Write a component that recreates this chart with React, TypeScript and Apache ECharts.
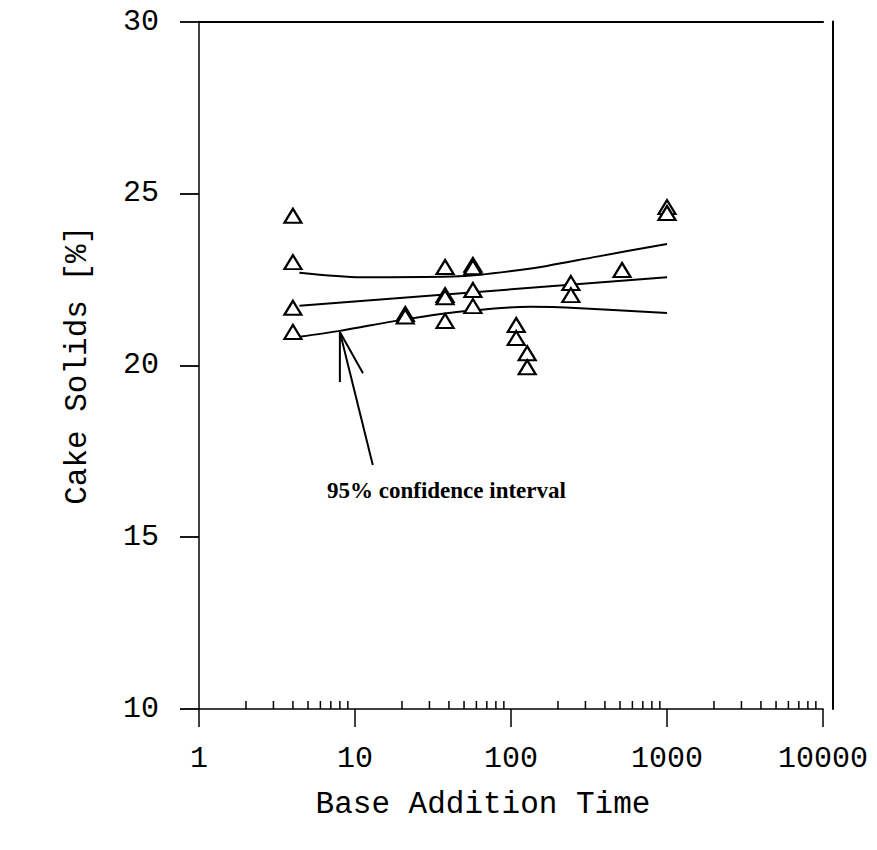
import React, { useEffect, useRef } from "react";
import * as echarts from "echarts";

// Observed data: [Base Addition Time, Cake Solids %]
const observed: [number, number][] = [
  [4, 24.35], [4, 23.0], [4, 21.67], [4, 20.97],
  [21, 21.49], [21, 21.42],
  [37.8, 22.86], [37.8, 22.04], [37.8, 21.98], [37.8, 21.29],
  [57, 22.92], [57, 22.85], [57, 22.19], [57, 21.72],
  [108, 21.17], [108, 20.79], [127, 20.35], [127, 19.94],
  [242, 22.39], [242, 22.04],
  [515, 22.77],
  [1000, 24.6], [1000, 24.43],
];

const fitLine: [number, number][] = [[4.4, 21.73], [1000, 22.56]];
const upperBand: [number, number][] = [
  [4.4, 22.69], [11, 22.56], [42, 22.58], [63, 22.63], [114, 22.77],
  [170, 22.89], [356, 23.16], [1000, 23.53],
];
const lowerBand: [number, number][] = [
  [4.4, 20.83], [8, 21.0], [20, 21.32], [55, 21.59], [133, 21.7],
  [277, 21.66], [1000, 21.52],
];

// Arrow annotation (data coordinates)
const arrowLong: [number, number][] = [[13.0, 17.1], [8.0, 20.97]];
const arrowLeft: [number, number][] = [[8.0, 20.97], [8.0, 19.51]];
const arrowRight: [number, number][] = [[8.0, 20.97], [11.25, 19.77]];

const minorTickVals: number[] = [
  2, 3, 4, 5, 6, 7, 8, 9,
  20, 30, 40, 50, 60, 70, 80, 90,
  200, 300, 400, 500, 600, 700, 800, 900,
  2000, 3000, 4000, 5000, 6000, 7000, 8000, 9000,
];

const xTickLabels: string[] = ["1", "10", "100", "1000", "10000"];
const yTickLabels: string[] = ["10", "15", "20", "25", "30"];

const MONO = "'Liberation Mono', 'DejaVu Sans Mono', monospace";

export default function App() {
  const ref = useRef<HTMLDivElement>(null);

  useEffect(() => {
    const prevMargin = document.body.style.margin;
    document.body.style.margin = "0";
    if (!ref.current) return;
    const chart = echarts.init(ref.current, undefined, { renderer: "svg" });

    const lineStyleBlack = { color: "#000", width: 2 };
    const mkLine = (data: [number, number][], smooth: number | boolean = false) => ({
      type: "line",
      data,
      symbol: "none",
      smooth,
      lineStyle: lineStyleBlack,
      silent: true,
      z: 3,
    });

    chart.setOption({
      animation: false,
      backgroundColor: "#fff",
      grid: { left: 199, top: 21.5, width: 624, height: 687.5, containLabel: false },
      xAxis: [
        {
          type: "log",
          logBase: 10,
          min: 1,
          max: 10000,
          position: "bottom",
          name: "Base Addition Time",
          nameLocation: "middle",
          nameGap: 80,
          nameTextStyle: {
            fontFamily: MONO,
            fontSize: 31,
            color: "#000",
            padding: [0, 56, 0, 0],
          },
          axisLine: { show: true, lineStyle: { color: "#000", width: 1.5 } },
          axisTick: { show: true, inside: false, length: 18, lineStyle: { color: "#000", width: 1.5 } },
          axisLabel: {
            show: true,
            margin: 38,
            fontFamily: MONO,
            fontSize: 30,
            lineHeight: 24,
            color: "#000",
            formatter: (v: number) => {
              const i = Math.round(Math.log10(v));
              return xTickLabels[i] ?? "";
            },
          },
          splitLine: { show: false },
          minorTick: { show: false },
        },
        {
          type: "log",
          logBase: 10,
          min: 1,
          max: 10000,
          position: "top",
          axisLine: { show: true, lineStyle: { color: "#000", width: 2.2 } },
          axisTick: { show: false },
          axisLabel: { show: false },
          splitLine: { show: false },
        },
      ],
      yAxis: [
        {
          type: "value",
          min: 10,
          max: 30,
          interval: 5,
          position: "left",
          name: "Cake Solids [%]",
          nameLocation: "middle",
          nameGap: 106,
          nameTextStyle: { fontFamily: MONO, fontSize: 31, color: "#000" },
          axisLine: { show: true, lineStyle: { color: "#000", width: 1.5 } },
          axisTick: { show: true, inside: false, length: 19, lineStyle: { color: "#000", width: 1.8 } },
          axisLabel: {
            margin: 40,
            fontFamily: MONO,
            fontSize: 30,
            lineHeight: 24,
            color: "#000",
            formatter: (v: number) => {
              const i = Math.round((v - 10) / 5);
              return yTickLabels[i] ?? "";
            },
          },
          splitLine: { show: false },
        },
        {
          type: "value",
          min: 10,
          max: 30,
          position: "right",
          offset: 10,
          axisLine: { show: true, lineStyle: { color: "#000", width: 2 } },
          axisTick: { show: false },
          axisLabel: { show: false },
          splitLine: { show: false },
        },
      ],
      series: [
        mkLine(upperBand, 0.3),
        mkLine(fitLine),
        mkLine(lowerBand, 0.3),
        mkLine(arrowLong),
        mkLine(arrowLeft),
        mkLine(arrowRight),
        {
          type: "scatter",
          data: observed,
          symbol: "triangle",
          symbolSize: [17, 14],
          itemStyle: { color: "#fff", borderColor: "#000", borderWidth: 2.2, opacity: 1 },
          silent: true,
          z: 4,
        },
        {
          type: "custom",
          data: minorTickVals.map((v) => [v, 10]),
          silent: true,
          clip: false,
          z: 5,
          renderItem: (params: any, api: any) => {
            const p = api.coord([api.value(0), api.value(1)]);
            return {
              type: "line",
              shape: { x1: p[0], y1: p[1], x2: p[0], y2: p[1] - 8 },
              style: { stroke: "#000", lineWidth: 1.5 },
            };
          },
        },
      ],
      graphic: [
        {
          type: "text",
          left: 327,
          top: 479,
          style: {
            text: "95% confidence interval",
            fontFamily: "'Liberation Serif', 'DejaVu Serif', serif",
            fontWeight: "bold",
            fontSize: 23,
            fill: "#000",
          },
        },
      ],
    });

    return () => {
      chart.dispose();
      document.body.style.margin = prevMargin;
    };
  }, []);

  return <div ref={ref} style={{ width: 877, height: 850 }} />;
}
